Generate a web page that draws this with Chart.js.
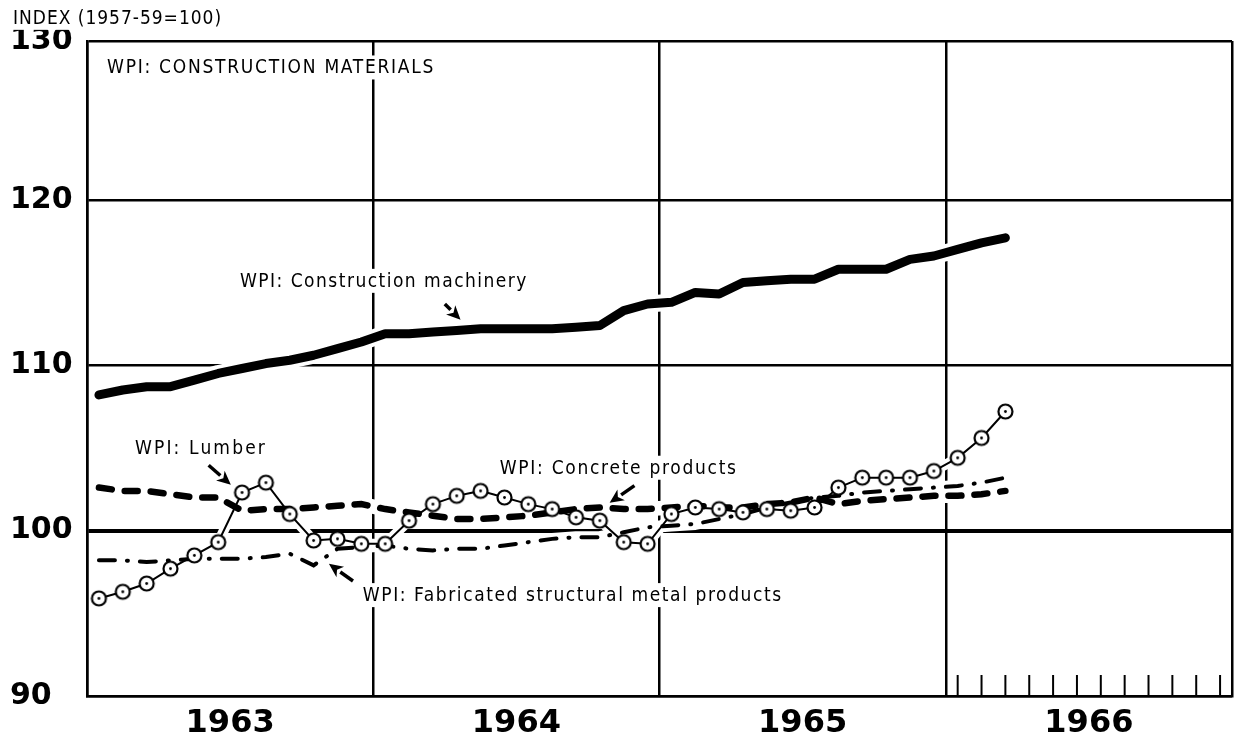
<!DOCTYPE html>
<html>
<head>
<meta charset="utf-8">
<script src="https://cdn.jsdelivr.net/npm/chart.js@4.4.0/dist/chart.umd.min.js"></script>
<style>
  html, body { margin: 0; padding: 0; background: #fff; }
  #wrap { width: 1236px; height: 743px; }
</style>
</head>
<body>
<div id="wrap"><canvas id="wpi" width="1236" height="743"></canvas></div>
<script>
// Monthly wholesale price indexes, Jan 1963 - Mar 1966 (1957-59 = 100)
const MONTHS = [
  'Jan 1963','Feb 1963','Mar 1963','Apr 1963','May 1963','Jun 1963','Jul 1963','Aug 1963','Sep 1963','Oct 1963','Nov 1963','Dec 1963',
  'Jan 1964','Feb 1964','Mar 1964','Apr 1964','May 1964','Jun 1964','Jul 1964','Aug 1964','Sep 1964','Oct 1964','Nov 1964','Dec 1964',
  'Jan 1965','Feb 1965','Mar 1965','Apr 1965','May 1965','Jun 1965','Jul 1965','Aug 1965','Sep 1965','Oct 1965','Nov 1965','Dec 1965',
  'Jan 1966','Feb 1966','Mar 1966'
];
const YEARS = ['1963', '1964', '1965', '1966'];
const Y_TICKS = [90, 100, 110, 120, 130];
// the top frame line carries the 130 label; it sits a shade under 130
const Y_TOP = 129.6;

const machinery = [
  108.2, 108.5, 108.7, 108.7, 109.1, 109.5, 109.8, 110.1, 110.3, 110.6, 111.0, 111.4,
  111.9, 111.9, 112.0, 112.1, 112.2, 112.2, 112.2, 112.2, 112.3, 112.4, 113.3, 113.7,
  113.8, 114.4, 114.3, 115.0, 115.1, 115.2, 115.2, 115.8, 115.8, 115.8, 116.4, 116.6,
  117.0, 117.4, 117.7
];
const lumber = [
  95.9, 96.3, 96.8, 97.7, 98.5, 99.3, 102.3, 102.9, 101.0, 99.4, 99.5, 99.2,
  99.2, 100.6, 101.6, 102.1, 102.4, 102.0, 101.6, 101.3, 100.8, 100.6, 99.3, 99.2,
  101.0, 101.4, 101.3, 101.1, 101.3, 101.2, 101.4, 102.6, 103.2, 103.2, 103.2, 103.6,
  104.4, 105.6, 107.2
];
const concrete = [
  102.6, 102.4, 102.4, 102.2, 102.0, 102.0, 101.2, 101.3, 101.3, 101.4, 101.5, 101.6,
  101.3, 101.1, 100.9, 100.7, 100.7, 100.8, 100.9, 101.1, 101.3, 101.4, 101.3, 101.3,
  101.4, 101.5, 101.4, 101.4, 101.6, 101.7, 102.0, 101.6, 101.8, 101.9, 102.0, 102.1,
  102.1, 102.2, 102.4
];
const fabricated = [
  98.2, 98.2, 98.1, 98.2, 98.3, 98.3, 98.3, 98.4, 98.6, 97.9, 98.9, 99.0,
  99.1, 98.9, 98.8, 98.9, 98.9, 99.1, 99.3, 99.5, 99.6, 99.6, 99.9, 100.2,
  100.3, 100.4, 100.7, 101.0, 101.4, 101.7, 102.0, 102.1, 102.3, 102.4, 102.5, 102.6,
  102.7, 102.9, 103.2
];
// month tick marks along the bottom of 1966 (month index from Jan 1963)
const TICKS_1966 = [36, 37, 38, 39, 40, 41, 42, 43, 44, 45, 46, 47];

// x = month index, plotted at mid-month
const toPoints = vals => vals.map((v, i) => ({ x: i + 0.5, y: v }));

// open circle with a centre dot for the lumber series
function ringMarker() {
  const c = document.createElement('canvas');
  c.width = 19; c.height = 19;
  const g = c.getContext('2d');
  g.beginPath();
  g.arc(9.5, 9.5, 7, 0, Math.PI * 2);
  g.fillStyle = '#fff';
  g.fill();
  g.lineWidth = 2.2;
  g.strokeStyle = '#000';
  g.stroke();
  g.beginPath();
  g.arc(9.5, 9.5, 1.4, 0, Math.PI * 2);
  g.fillStyle = '#000';
  g.fill();
  return c;
}

const LABEL_FONT = '19px "DejaVu Sans Condensed", "DejaVu Sans", sans-serif';
const labels = [
  { text: 'INDEX (1957-59=100)', x: -3.1, y: 131.0, width: 209 },
  { text: 'WPI: CONSTRUCTION MATERIALS', x: 0.84, y: 128.0, width: 328 },
  { text: 'WPI: Construction machinery', x: 6.41, y: 115.1, width: 288 },
  { text: 'WPI: Lumber', x: 2.01, y: 105.0, width: 132 },
  { text: 'WPI: Concrete products', x: 17.3, y: 103.8, width: 238 },
  { text: 'WPI: Fabricated structural metal products', x: 11.56, y: 96.1, width: 420 },
];
const arrows = [
  { from: [15.0, 113.7], to: [15.66, 112.75] },
  { from: [5.1, 103.95], to: [6.03, 102.77] },
  { from: [22.95, 102.72], to: [21.91, 101.68] },
  { from: [11.15, 96.95], to: [10.14, 97.99] },
];

const paperPlugin = {
  id: 'paper',
  beforeDraw(chart) {
    const ctx = chart.ctx;
    ctx.save();
    ctx.fillStyle = '#fff';
    ctx.fillRect(0, 0, chart.width, chart.height);
    ctx.restore();
  }
};

// white halo under every series so the grid breaks where lines cross it
const haloPlugin = {
  id: 'halo',
  beforeDatasetsDraw(chart) {
    const ctx = chart.ctx;
    const a = chart.chartArea;
    ctx.save();
    ctx.beginPath();
    ctx.rect(a.left, a.top, a.right - a.left, a.bottom - a.top);
    ctx.clip();
    chart.data.datasets.forEach((ds, i) => {
      const pts = chart.getDatasetMeta(i).data;
      ctx.beginPath();
      pts.forEach((p, j) => j ? ctx.lineTo(p.x, p.y) : ctx.moveTo(p.x, p.y));
      ctx.lineWidth = ds.borderWidth + 8;
      ctx.strokeStyle = '#fff';
      ctx.lineJoin = 'round';
      ctx.lineCap = 'round';
      ctx.stroke();
    });
    ctx.restore();
  }
};

const notesPlugin = {
  id: 'notes',
  afterDatasetsDraw(chart) {
    const ctx = chart.ctx;
    const xs = chart.scales.x, ys = chart.scales.y;
    ctx.save();

    // month ticks for 1966
    ctx.strokeStyle = '#000';
    ctx.lineWidth = 2;
    TICKS_1966.forEach(m => {
      const px = xs.getPixelForValue(m + 0.5);
      ctx.beginPath();
      ctx.moveTo(px, ys.bottom);
      ctx.lineTo(px, ys.bottom - 21);
      ctx.stroke();
    });

    // series labels
    ctx.font = LABEL_FONT;
    ctx.fontStretch = 'condensed';
    ctx.textBaseline = 'middle';
    ctx.textAlign = 'left';
    labels.forEach(l => {
      const px = xs.getPixelForValue(l.x);
      const py = ys.getPixelForValue(l.y);
      ctx.letterSpacing = '0px';
      const natural = ctx.measureText(l.text).width;
      ctx.letterSpacing = ((l.width - natural) / l.text.length) + 'px';
      ctx.fillStyle = '#fff';
      ctx.fillRect(px - 4, py - 12, l.width + 8, 24);
      ctx.fillStyle = '#000';
      ctx.fillText(l.text, px, py + 1);
    });
    ctx.letterSpacing = '0px';

    // pointer arrows
    arrows.forEach(a => {
      const x0 = xs.getPixelForValue(a.from[0]), y0 = ys.getPixelForValue(a.from[1]);
      const x1 = xs.getPixelForValue(a.to[0]), y1 = ys.getPixelForValue(a.to[1]);
      const ang = Math.atan2(y1 - y0, x1 - x0);
      const head = 14, half = 6.5;
      const bx = x1 - head * Math.cos(ang), by = y1 - head * Math.sin(ang);
      ctx.beginPath();
      ctx.moveTo(x0, y0);
      ctx.lineTo(bx, by);
      ctx.lineWidth = 3.5;
      ctx.lineCap = 'butt';
      ctx.stroke();
      ctx.beginPath();
      ctx.moveTo(x1, y1);
      ctx.lineTo(bx + half * Math.sin(ang), by - half * Math.cos(ang));
      ctx.lineTo(x1 - (head - 4) * Math.cos(ang), y1 - (head - 4) * Math.sin(ang));
      ctx.lineTo(bx - half * Math.sin(ang), by + half * Math.cos(ang));
      ctx.closePath();
      ctx.fillStyle = '#000';
      ctx.fill();
    });
    ctx.restore();
  }
};

new Chart(document.getElementById('wpi'), {
  type: 'line',
  data: {
    datasets: [
      {
        label: 'WPI: Lumber',
        data: toPoints(lumber),
        borderColor: '#000',
        borderWidth: 2,
        pointStyle: ringMarker(),
        pointRadius: 7,
        order: 0,
      },
      {
        label: 'WPI: Construction machinery',
        data: toPoints(machinery),
        borderColor: '#000',
        borderWidth: 9,
        borderJoinStyle: 'round',
        borderCapStyle: 'round',
        pointRadius: 0,
        order: 1,
      },
      {
        label: 'WPI: Concrete products',
        data: toPoints(concrete),
        borderColor: '#000',
        borderWidth: 6.5,
        borderDash: [13, 13],
        borderCapStyle: 'round',
        pointRadius: 0,
        order: 2,
      },
      {
        label: 'WPI: Fabricated structural metal products',
        data: toPoints(fabricated),
        borderColor: '#000',
        borderWidth: 4,
        borderDash: [16, 12, 1, 12],
        borderCapStyle: 'round',
        pointRadius: 0,
        order: 3,
      },
    ]
  },
  options: {
    responsive: false,
    animation: false,
    events: [],
    layout: { autoPadding: false, padding: { top: 41, right: 4, left: 10, bottom: 0 } },
    elements: { line: { tension: 0 } },
    plugins: {
      legend: { display: false },
      tooltip: { enabled: false },
      title: { display: false },
    },
    scales: {
      x: {
        type: 'linear',
        min: 0,
        max: 48,
        afterBuildTicks: s => { s.ticks = [0, 6, 12, 18, 24, 30, 36, 42, 48].map(v => ({ value: v })); },
        afterFit: s => { s.height = 47; s.paddingLeft = 0; s.paddingRight = 0; },
        grid: {
          drawTicks: false,
          lineWidth: 2.5,
          color: c => (c.tick && c.tick.value % 12 === 0) ? '#000' : 'rgba(0,0,0,0)',
        },
        border: { display: true, color: '#000', width: 2.5 },
        ticks: {
          autoSkip: false,
          maxRotation: 0,
          padding: 8,
          color: '#000',
          font: { family: '"DejaVu Sans", sans-serif', size: 32, weight: 'bold' },
          callback: v => (v % 12 === 6) ? YEARS[(v - 6) / 12] : '',
        },
      },
      y: {
        min: 90,
        max: Y_TOP,
        afterBuildTicks: s => {
          s.ticks = Y_TICKS.map(v => ({ value: Math.min(v, Y_TOP), label: String(v) }));
        },
        afterFit: s => { s.width = 77; s.paddingTop = 0; s.paddingBottom = 0; },
        grid: {
          drawTicks: false,
          color: '#000',
          lineWidth: c => (c.tick && c.tick.value === 100) ? 4 : 2.5,
        },
        border: { display: true, color: '#000', width: 2.5 },
        ticks: {
          crossAlign: 'far',
          padding: 6,
          color: '#000',
          font: { family: '"DejaVu Sans", sans-serif', size: 30, weight: 'bold' },
          callback: (v, i) => String(Y_TICKS[i]),
        },
      },
    },
  },
  plugins: [paperPlugin, haloPlugin, notesPlugin],
});
</script>
</body>
</html>
